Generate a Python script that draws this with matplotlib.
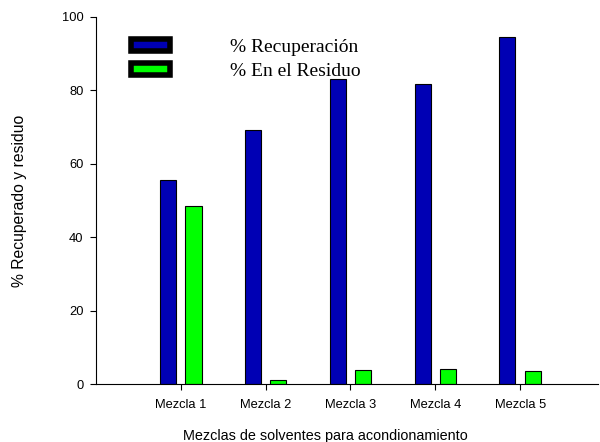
import matplotlib.pyplot as plt
import numpy as np
from matplotlib.patches import Patch

mezclas = ['Mezcla 1', 'Mezcla 2', 'Mezcla 3', 'Mezcla 4', 'Mezcla 5']
recuperacion = [55.5, 69.3, 83.0, 81.6, 94.6]
residuo = [48.5, 1.1, 3.8, 4.2, 3.6]

plt.rcParams['font.family'] = ['Liberation Sans', 'DejaVu Sans']

fig = plt.figure(figsize=(6, 4.42), dpi=100)
ax = fig.add_axes([0.16, 0.131, 0.837, 0.831])

x = np.arange(1, len(mezclas) + 1)
w = 0.19
ax.bar(x - 0.15, recuperacion, w, color='#0000b4', edgecolor='black', linewidth=0.8)
ax.bar(x + 0.15, residuo, w, color='#00ff00', edgecolor='black', linewidth=0.8)

ax.set_xlim(0, 5.92)
ax.set_ylim(0, 100)
ax.set_xticks(x)
ax.set_xticklabels(mezclas, fontsize=9.3)
ax.set_yticks(range(0, 101, 20))
ax.tick_params(axis='y', labelsize=9.3, direction='out', length=4, pad=5)
ax.tick_params(axis='x', direction='out', length=4, pad=7)
for s in ['top', 'right']:
    ax.spines[s].set_visible(False)
ax.set_xlabel('Mezclas de solventes para acondionamiento', fontsize=10.4)
ax.xaxis.set_label_coords(0.456, -0.142)
ax.xaxis.label.set_verticalalignment('center')
ax.set_ylabel('% Recuperado y residuo', fontsize=11.3, labelpad=25)

handles = [Patch(facecolor='#0000b4', edgecolor='black', linewidth=4, joinstyle='round'),
           Patch(facecolor='#00ff00', edgecolor='black', linewidth=4, joinstyle='round')]
ax.legend(handles, ['% Recuperación', '% En el Residuo'], loc='upper left',
          bbox_to_anchor=(0.069, 0.94), frameon=False, borderpad=0, borderaxespad=0,
          prop={'family': 'Liberation Serif', 'size': 14},
          handlelength=2.04, handleheight=0.6, handletextpad=3.05, labelspacing=0.35)

fig.savefig('out.png', dpi=100)
